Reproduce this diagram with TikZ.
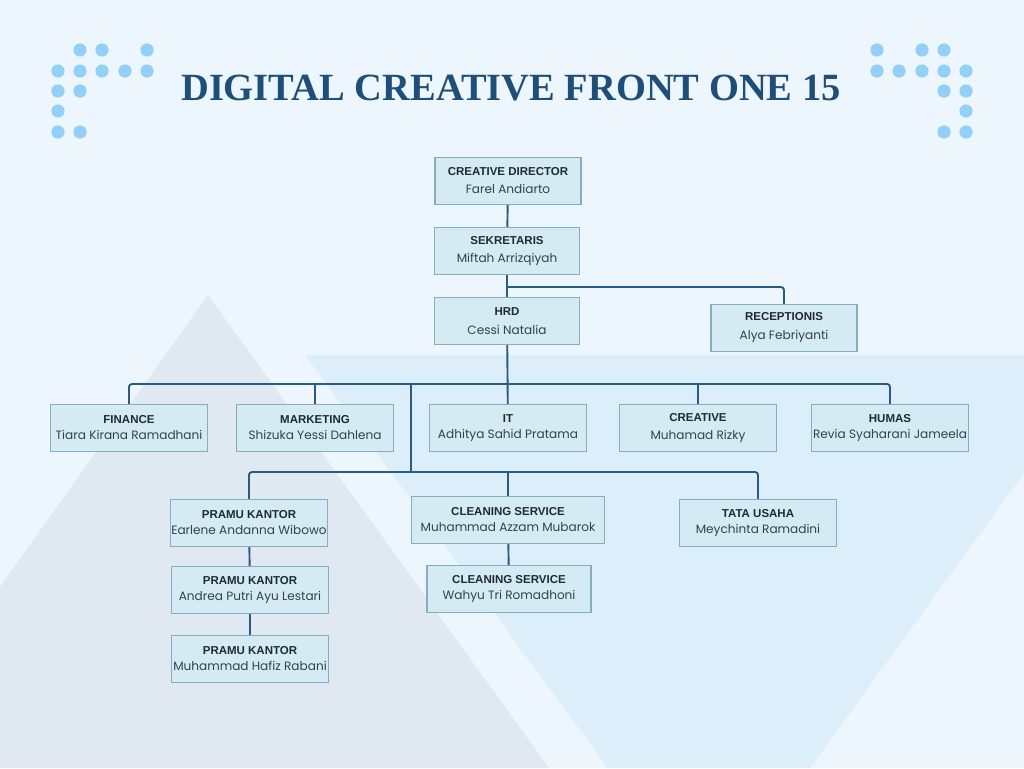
\documentclass[tikz,border=0pt]{standalone}
\usepackage{fontspec}
\setmainfont{Liberation Serif}
\newfontfamily\rolefont{Liberation Sans}
\newfontfamily\namefont{Poppins}
\usetikzlibrary{positioning}
\definecolor{pagebg}{HTML}{EDF5FD}
\definecolor{peak}{HTML}{E0E8F1}
\definecolor{skyband}{HTML}{DDEEFB}
\definecolor{dotblue}{HTML}{92D0F8}
\definecolor{unitfill}{HTML}{D5EBF4}
\definecolor{unitline}{HTML}{86AEBF}
\definecolor{linkblue}{HTML}{285C82}
\definecolor{titleblue}{HTML}{1F4E79}
\definecolor{roleink}{HTML}{1E2A36}
\definecolor{nameink}{HTML}{34414C}
\newcommand\rl[1]{{\rolefont\bfseries\fontsize{11.5}{12}\selectfont\color{roleink}#1}}

\begin{document}
\begin{tikzpicture}[x=1pt,y=-1pt,
  unit/.style={draw=unitline,fill=unitfill,line width=1.4pt,minimum width=157pt,minimum height=47pt,
    inner sep=0pt,align=center,text=nameink,font=\namefont\fontsize{12.1}{14}\selectfont},
  link/.style={draw=linkblue,line width=1.9pt,rounded corners=3pt}]
  % background
  \useasboundingbox[fill=pagebg] (0,0) rectangle (1024,768);
  \fill[peak] (208,295) -- (549,768) -- (0,768) -- (0,587) -- cycle;
  \fill[skyband] (305,355) -- (1024,355) -- (1024,473) -- (810,768) -- (608,768) -- cycle;
  % dots
  \foreach \x/\y in {80/50,102/50,147/50,58/71,80/71,102/71,125/71,147/71,58/91,80/91,58/111,58/132,80/132}{
    \fill[dotblue] (\x,\y) circle (6.6);
    \fill[dotblue] (1024-\x,\y) circle (6.6);
  }
  \node[font=\bfseries\fontsize{38.5}{42}\selectfont,text=titleblue] (title) at (511,88) {DIGITAL CREATIVE FRONT ONE 15};

  % units
  \node[unit,minimum width=146pt] (cd) at (508,181) {\rl{CREATIVE DIRECTOR}\\[4pt]Farel Andiarto};
  \node[unit,minimum width=145pt] (sek) at (507,251) {\rl{SEKRETARIS}\\[4pt]Miftah Arrizqiyah};
  \node[unit,minimum width=145pt] (hrd) at (507,321) {\rl{HRD}\\[5pt]Cessi Natalia};
  \node[unit,minimum width=146pt] (rec) at (784,328) {\rl{RECEPTIONIS}\\[5pt]Alya Febriyanti};
  \node[unit] (fin) at (129,428) {\rl{FINANCE}\\[2pt]Tiara Kirana Ramadhani};
  \node[unit] (mkt) at (315,428) {\rl{MARKETING}\\[2pt]Shizuka Yessi Dahlena};
  \node[unit] (it) at (508,428) {\rl{IT}\\[2pt]Adhitya Sahid Pratama};
  \node[unit] (cre) at (698,428) {\rl{CREATIVE}\\[4pt]Muhamad Rizky};
  \node[unit] (hum) at (890,428) {\rl{HUMAS}\\[2pt]Revia Syaharani Jameela};
  \node[unit] (pk1) at (249,523) {\rl{PRAMU KANTOR}\\[2pt]Earlene Andanna Wibowo};
  \node[unit,minimum width=193pt] (cs1) at (508,520) {\rl{CLEANING SERVICE}\\[2pt]Muhammad Azzam Mubarok};
  \node[unit] (tu) at (758,523) {\rl{TATA USAHA}\\[2pt]Meychinta Ramadini};
  \node[unit] (pk2) at (250,590) {\rl{PRAMU KANTOR}\\[2pt]Andrea Putri Ayu Lestari};
  \node[unit,minimum width=164pt] (cs2) at (509,589) {\rl{CLEANING SERVICE}\\[2pt]Wahyu Tri Romadhoni};
  \node[unit] (pk3) at (250,659) {\rl{PRAMU KANTOR}\\[2pt]Muhammad Hafiz Rabani};

  % links
  \coordinate (split) at (508,287);
  \coordinate (bus1) at (508,384);
  \coordinate (bus2) at (411,472);
  \draw[link] (cd) -- (sek);
  \draw[link] (sek) -- (hrd);
  \draw[link] (split) -| (rec.north);
  \draw[link] (hrd) -- (it);
  \draw[link] (fin.north) |- (bus1) -| (hum.north);
  \draw[link] (mkt.north) -- (mkt.north |- bus1);
  \draw[link] (cre.north) -- (cre.north |- bus1);
  \draw[link] (bus2 |- bus1) -- (bus2);
  \draw[link] (pk1.north) |- (bus2) -| (tu.north);
  \draw[link] (cs1.north) -- (cs1.north |- bus2);
  \draw[link] (pk1) -- (pk2);
  \draw[link] (pk2) -- (pk3);
  \draw[link] (cs1) -- (cs2);
\end{tikzpicture}
\end{document}
